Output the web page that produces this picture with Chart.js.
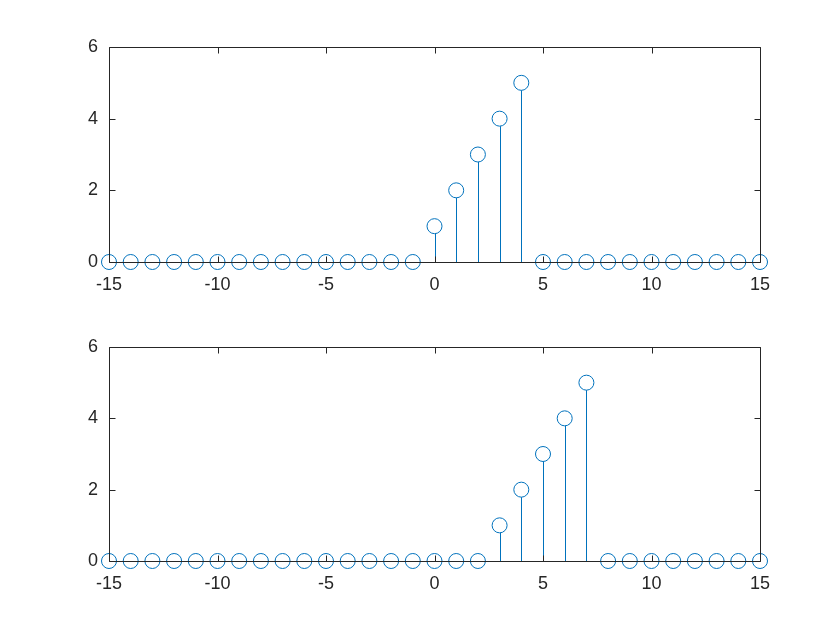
<!DOCTYPE html>
<html>
<head>
<meta charset="utf-8">
<script src="https://cdn.jsdelivr.net/npm/chart.js@4"></script>
<style>
  html, body { margin: 0; padding: 0; background: #fff; }
  #wrap { position: relative; width: 840px; height: 630px; }
  .panel { position: absolute; left: 0; width: 840px; }
  #p1 { top: 0; height: 315px; }
  #p2 { top: 300px; height: 330px; }
</style>
</head>
<body>
<div id="wrap">
  <div class="panel" id="p1"><canvas id="c1"></canvas></div>
  <div class="panel" id="p2"><canvas id="c2"></canvas></div>
</div>
<script>
const n = [-15, -14, -13, -12, -11, -10, -9, -8, -7, -6, -5, -4, -3, -2, -1,
  0, 1, 2, 3, 4, 5, 6, 7, 8, 9, 10, 11, 12, 13, 14, 15];
const topValues = [0, 0, 0, 0, 0, 0, 0, 0, 0, 0, 0, 0, 0, 0, 0,
  1, 2, 3, 4, 5, 0, 0, 0, 0, 0, 0, 0, 0, 0, 0, 0];
const bottomValues = [0, 0, 0, 0, 0, 0, 0, 0, 0, 0, 0, 0, 0, 0, 0,
  0, 0, 0, 1, 2, 3, 4, 5, 0, 0, 0, 0, 0, 0, 0, 0];
const xTicks = [-15, -10, -5, 0, 5, 10, 15];
const yTicks = [0, 2, 4, 6];

const blue = "#0072BD";
const axisColor = "#262626";
const markerR = 7.5;

// stems from 0 up to the marker, drawn through the scales
const stemPlugin = {
  id: "stems",
  beforeDatasetsDraw(chart) {
    const { ctx, scales: { x, y } } = chart;
    const pts = chart.data.datasets[0].data;
    ctx.save();
    ctx.strokeStyle = blue;
    ctx.lineWidth = 1;
    pts.forEach((p) => {
      if (!p.y) return;
      const px = Math.round(x.getPixelForValue(p.x)) + 0.5;
      const y0 = y.getPixelForValue(0);
      const y1 = y.getPixelForValue(p.y) + markerR;
      ctx.beginPath();
      ctx.moveTo(px, y0);
      ctx.lineTo(px, y1);
      ctx.stroke();
    });
    ctx.restore();
  }
};

// MATLAB style box with inward ticks on all sides
const boxPlugin = {
  id: "box",
  afterDraw(chart) {
    const { ctx, chartArea: a, scales: { x, y } } = chart;
    const L = Math.round(a.left) + 0.5, R = Math.round(a.right) + 0.5;
    const T = Math.round(a.top) + 0.5, B = Math.round(a.bottom) + 0.5;
    const tl = 6;
    ctx.save();
    ctx.strokeStyle = axisColor;
    ctx.lineWidth = 1;
    ctx.beginPath();
    ctx.rect(L, T, R - L, B - T);
    xTicks.forEach((v) => {
      const px = Math.round(x.getPixelForValue(v)) + 0.5;
      ctx.moveTo(px, B); ctx.lineTo(px, B - tl);
      ctx.moveTo(px, T); ctx.lineTo(px, T + tl);
    });
    yTicks.forEach((v) => {
      const py = Math.round(y.getPixelForValue(v)) + 0.5;
      ctx.moveTo(L, py); ctx.lineTo(L + tl, py);
      ctx.moveTo(R, py); ctx.lineTo(R - tl, py);
    });
    ctx.stroke();
    ctx.restore();
  }
};

function makeStem(canvas, values, padBottom) {
  return new Chart(canvas, {
    type: "scatter",
    data: {
      datasets: [{
        data: n.map((v, i) => ({ x: v, y: values[i] })),
        pointStyle: "circle",
        pointRadius: markerR,
        pointHoverRadius: markerR,
        pointBorderWidth: 1,
        pointBorderColor: blue,
        pointBackgroundColor: "rgba(0,0,0,0)",
        showLine: false,
        clip: false
      }]
    },
    options: {
      maintainAspectRatio: false,
      responsive: true,
      animation: false,
      events: [],
      layout: { padding: { left: 0, right: 80, top: 47, bottom: padBottom } },
      plugins: { legend: { display: false }, tooltip: { enabled: false } },
      scales: {
        x: {
          type: "linear",
          min: -15, max: 15,
          afterBuildTicks: (s) => { s.ticks = xTicks.map((v) => ({ value: v })); },
          afterFit: (s) => { s.height = 53; },
          grid: { display: false, drawTicks: false },
          border: { display: false },
          ticks: {
            padding: 12,
            color: axisColor,
            font: { family: "'Liberation Sans', Arial, sans-serif", size: 18 },
            maxRotation: 0
          }
        },
        y: {
          min: 0, max: 6,
          afterBuildTicks: (s) => { s.ticks = yTicks.map((v) => ({ value: v })); },
          afterFit: (s) => { s.width = 109; },
          grid: { display: false, drawTicks: false },
          border: { display: false },
          ticks: {
            padding: 11,
            color: axisColor,
            font: { family: "'Liberation Sans', Arial, sans-serif", size: 18 }
          }
        }
      }
    },
    plugins: [stemPlugin, boxPlugin]
  });
}

makeStem(document.getElementById("c1"), topValues, 0);
makeStem(document.getElementById("c2"), bottomValues, 16);
</script>
</body>
</html>
